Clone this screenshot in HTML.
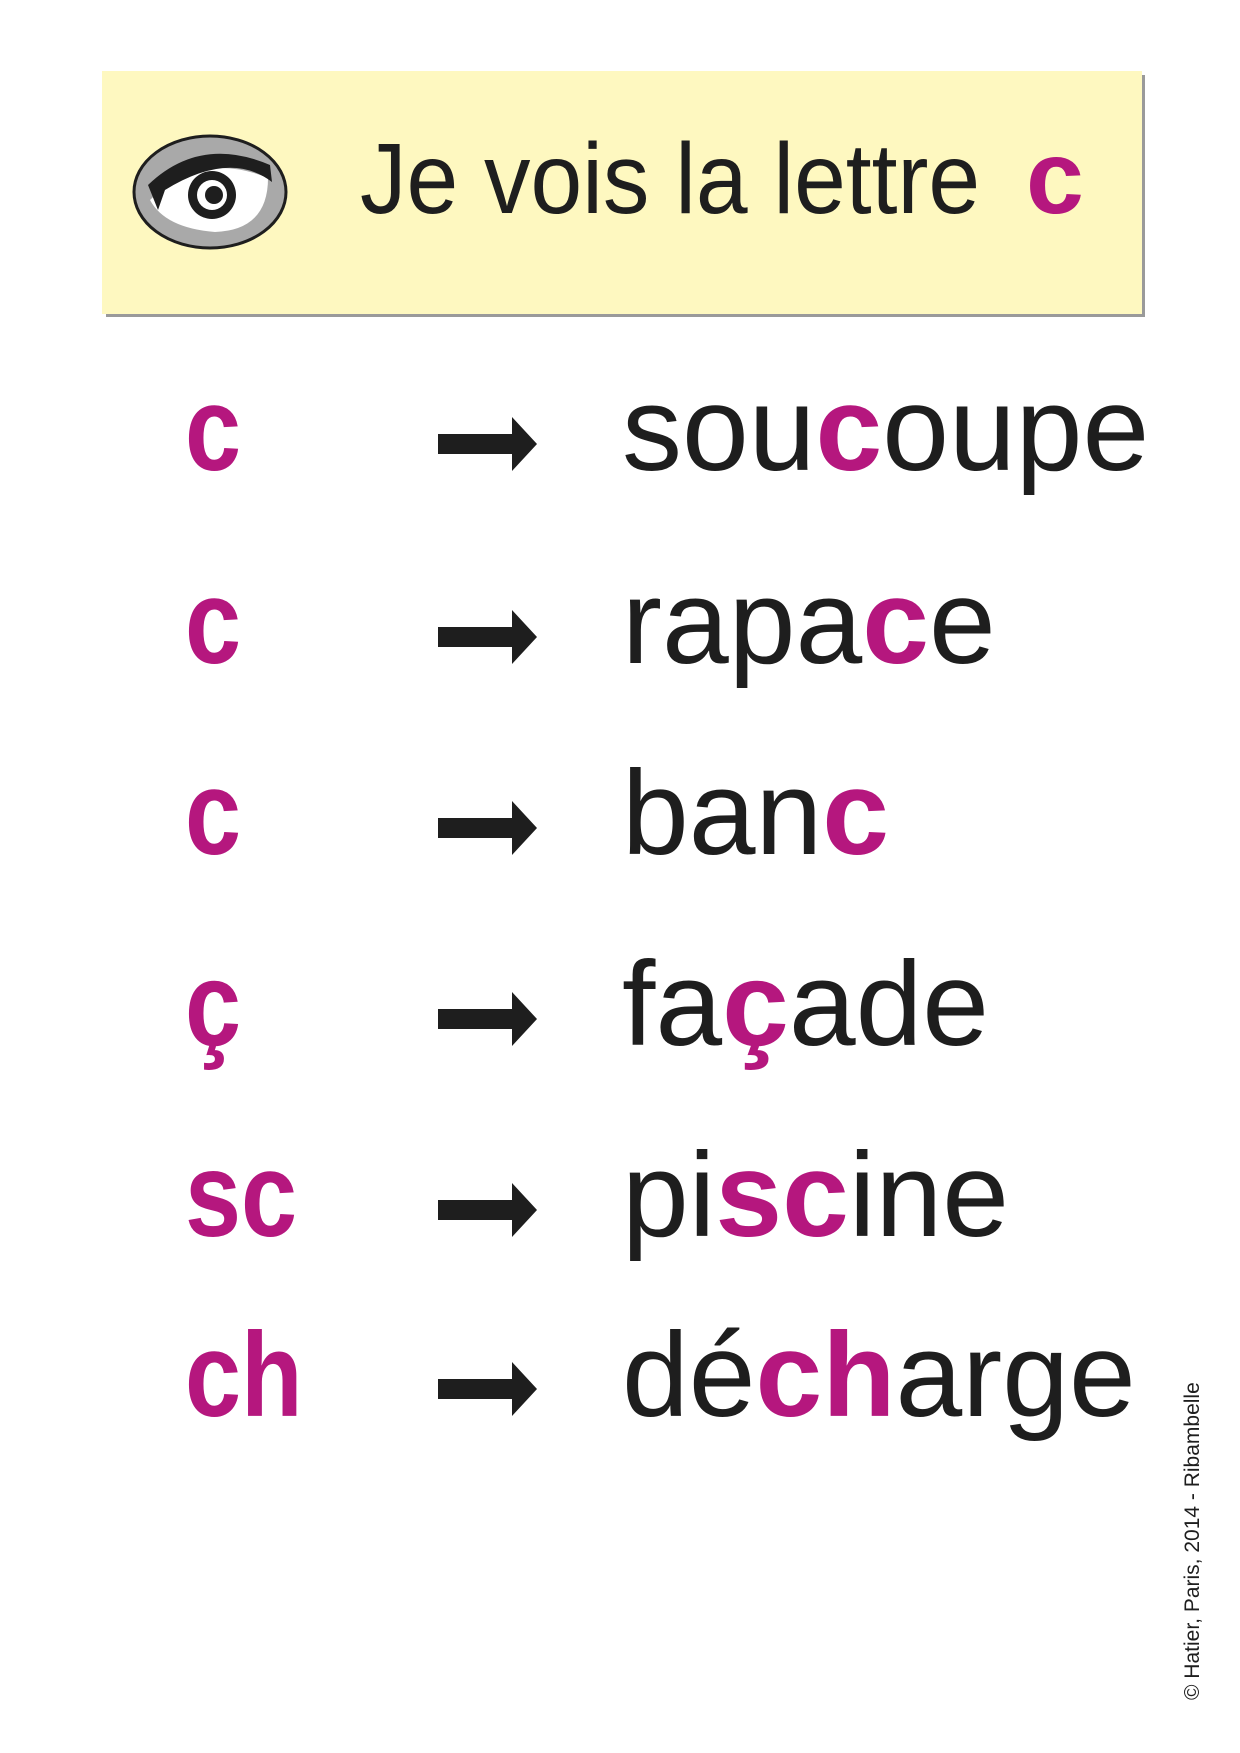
<!DOCTYPE html>
<html><head><meta charset="utf-8"><style>
html,body{margin:0;padding:0;background:#fff;}
svg{display:block;}
text{font-family:"Liberation Sans",sans-serif;}
</style></head><body>
<svg width="1240" height="1753" viewBox="0 0 1240 1753" xmlns="http://www.w3.org/2000/svg">
<rect x="106" y="75" width="1039" height="242" fill="#9a9a9a"/>
<rect x="102" y="71" width="1040" height="243" fill="#fef8c0"/>
<ellipse cx="210" cy="192" rx="76" ry="56" fill="#a9a9a9" stroke="#1e1e1e" stroke-width="3"/>
<path d="M150 200 Q200 150 268 178 Q268 230 215 232 Q165 228 150 200Z" fill="#fff"/>
<path d="M148 185 Q200 135 270 165 L272 182 Q230 150 165 190 L158 210Z" fill="#1e1e1e"/>
<circle cx="212" cy="195" r="24" fill="#1e1e1e"/>
<circle cx="212" cy="195" r="15" fill="#fff"/>
<circle cx="214" cy="195" r="9" fill="#1e1e1e"/>
<text x="360" y="213" font-size="100" fill="#1e1e1e" transform="translate(360 0) scale(0.93 1) translate(-360 0)">Je vois la lettre</text>
<text x="1026" y="213" font-size="104" font-weight="bold" fill="#b5177e">c</text>
<g font-size="120" fill="#1e1e1e">
<g font-weight="bold" fill="#b5177e" transform="translate(185 0) scale(0.84 1) translate(-185 0)">
<text x="185" y="470">c</text>
<text x="185" y="663">c</text>
<text x="185" y="854">c</text>
<text x="185" y="1045">ç</text>
<text x="185" y="1236">sc</text>
<text x="185" y="1416">ch</text>
</g>
<text x="622" y="470">sou<tspan fill="#b5177e" font-weight="bold">c</tspan>oupe</text>
<text x="622" y="663">rapa<tspan fill="#b5177e" font-weight="bold">c</tspan>e</text>
<text x="622" y="854">ban<tspan fill="#b5177e" font-weight="bold">c</tspan></text>
<text x="622" y="1045">fa<tspan fill="#b5177e" font-weight="bold">ç</tspan>ade</text>
<text x="622" y="1236">pi<tspan fill="#b5177e" font-weight="bold">sc</tspan>ine</text>
<text x="622" y="1416">dé<tspan fill="#b5177e" font-weight="bold">ch</tspan>arge</text>
</g>
<g fill="#1e1e1e">
<path id="ar" d="M438 434 L512 434 L512 417 L537 444 L512 471 L512 454 L438 454Z"/>
<use href="#ar" y="193"/>
<use href="#ar" y="384"/>
<use href="#ar" y="575"/>
<use href="#ar" y="766"/>
<use href="#ar" y="945"/>
</g>
<text x="0" y="0" font-size="21" fill="#1e1e1e" transform="translate(1199 1700) rotate(-90)">© Hatier, Paris, 2014 - Ribambelle</text>
</svg>
</body></html>
